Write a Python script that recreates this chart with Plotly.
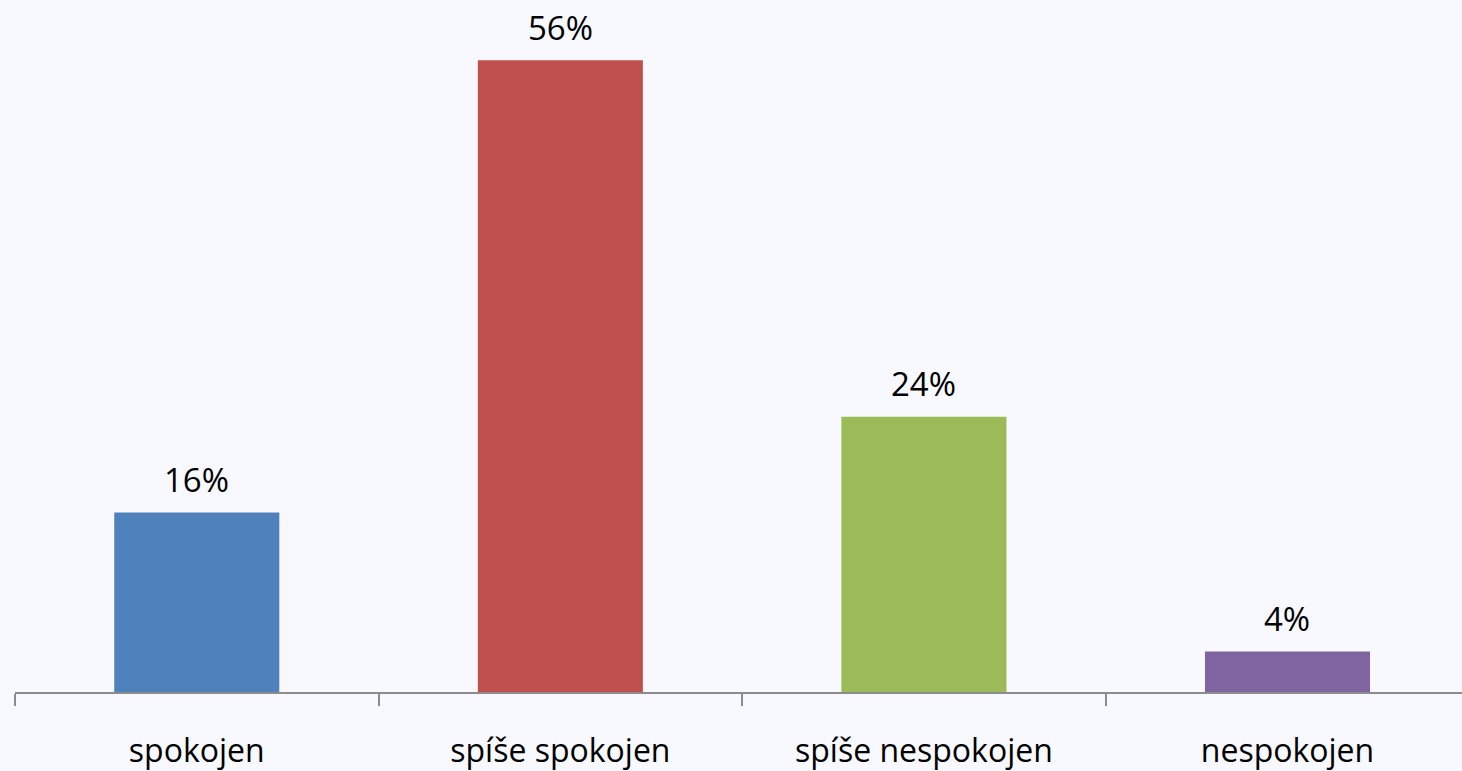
import plotly.graph_objects as go

categories = ["spokojen", "spíše spokojen", "spíše nespokojen", "nespokojen"]
values = [15.9, 56.0, 24.4, 3.6]
colors = ["#4F81BD", "#C0504D", "#9BBB59", "#8064A2"]

bg = "#F8F9FE"
font_family = "Open Sans, DejaVu Sans, sans-serif"

fig = go.Figure(
    go.Bar(
        x=categories,
        y=values,
        marker=dict(color=colors, line=dict(width=0)),
        hoverinfo="skip",
    )
)

for c, v in zip(categories, values):
    fig.add_annotation(
        x=c, y=v, text=f"{v:.0f}%", showarrow=False,
        yanchor="middle", yshift=33,
        font=dict(family=font_family, size=33, color="#000000"),
    )

fig.update_layout(
    width=1462, height=771,
    margin=dict(l=15, r=0, t=15, b=79),
    paper_bgcolor=bg, plot_bgcolor=bg,
    bargap=0.546,
    showlegend=False,
    font=dict(family=font_family, color="#000000"),
)
fig.update_xaxes(
    type="category",
    range=[-0.5, 3.48],
    tickson="boundaries",
    ticks="outside", ticklen=12, tickwidth=2, tickcolor="#8C8C8C",
    showline=True, linecolor="#8C8C8C", linewidth=2,
    showgrid=False, zeroline=False,
    ticklabelstandoff=30,
    tickfont=dict(family=font_family, size=32, color="#000000"),
)
fig.update_yaxes(
    range=[0, 60], visible=False, showgrid=False, zeroline=False,
)

fig.write_html(
    "out.html",
    config={"displayModeBar": False},
    post_script="document.body.style.margin='0';document.body.style.overflow='hidden';",
)
